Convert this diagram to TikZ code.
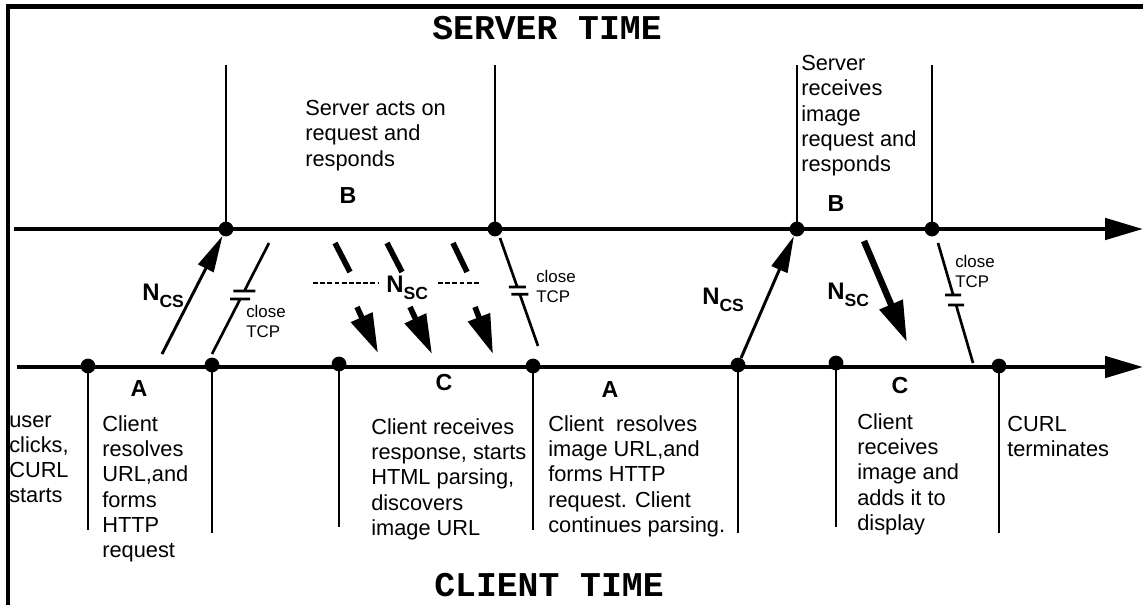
\documentclass[tikz,border=0pt]{standalone}
\usepackage{fontspec}
\setmainfont{Liberation Sans}
\setmonofont{Liberation Mono}
\usetikzlibrary{arrows.meta,calc}

\newcommand{\Nsub}[1]{N\raisebox{-5pt}{\fontsize{12.5}{12.5}\selectfont #1}}

\begin{document}
\begin{tikzpicture}[x=0.025cm,y=-0.025cm,
  timeline/.style={line width=3.2pt,-{Triangle[length=27pt,width=15pt]}},
  tickline/.style={line width=2.1pt},
  dot/.style={circle,fill,inner sep=0pt,minimum size=0.37cm},
  note/.style={anchor=north west,align=left,inner sep=0pt,font=\fontsize{15.5}{18}\selectfont},
  phase/.style={font=\fontsize{16.5}{16.5}\selectfont\bfseries},
  tcpnote/.style={anchor=north west,align=left,inner sep=0pt,font=\fontsize{12}{14}\selectfont},
  nlab/.style={anchor=base west,inner sep=0pt,font=\fontsize{17}{17}\selectfont\bfseries},
  req/.style={line width=2.1pt,-{Triangle[length=26pt,width=12pt]}},
  resp/.style={line width=4pt},
  resphead/.style={line width=4pt,-{Triangle[length=28pt,width=16pt]}},
  bigresp/.style={line width=4.6pt,-{Triangle[length=29pt,width=17pt]}},
  sig/.style={line width=1.9pt},
  dashrule/.style={line width=2pt,dash pattern=on 3.5pt off 1.6pt},
  heading/.style={font=\fontsize{24.7}{24.7}\selectfont\ttfamily\bfseries}]

\useasboundingbox (0,0) rectangle (1143,605);
\draw[line width=3pt] (8,605) -- (8,6.5) -- (1143,6.5);

\node[heading] (srvtime) at (547,28) {SERVER TIME};
\node[heading] (clitime) at (549,585) {CLIENT TIME};

% the two time axes
\coordinate (sL) at (14,229);
\coordinate (sR) at (1143,229);
\coordinate (cL) at (17,367);
\coordinate (cR) at (1143,367);
\draw[timeline] (sL) -- (sR);
\draw[timeline] (cL) -- (cR);

% server events
\node[dot] (s1) at (226,229) {};
\node[dot] (s2) at (495,229) {};
\node[dot] (s3) at (797,229) {};
\node[dot] (s4) at (932,229) {};
\draw[tickline] (s1.center) -- ++(0,-164);
\draw[tickline] (s2.center) -- ++(0,-164);
\draw[tickline] (s3.center) -- ++(0,-164);
\draw[tickline] (s4.center) -- ++(0,-164);

% client events
\node[dot] (c1) at (88,366) {};
\node[dot] (c2) at (212,365) {};
\node[dot] (c3) at (339,364) {};
\node[dot] (c4) at (533,366) {};
\node[dot] (c5) at (738,365) {};
\node[dot] (c6) at (836,363) {};
\node[dot] (c7) at (999,366) {};
\draw[tickline] (c1.center) -- ++(0,164);
\draw[tickline] (c2.center) -- ++(0,168);
\draw[tickline] (c3.center) -- ++(0,163);
\draw[tickline] (c4.center) -- ++(0,164);
\draw[tickline] (c5.center) -- ++(0,168);
\draw[tickline] (c6.center) -- ++(0,164);
\draw[tickline] (c7.center) -- ++(0,167);

\node[phase] (lA1) at (139,389) {A};
\node[phase] (lB1) at (348,196) {B};
\node[phase] (lC1) at (444,383) {C};
\node[phase] (lA2) at (610,390) {A};
\node[phase] (lB2) at (836,204) {B};
\node[phase] (lC2) at (900,386) {C};

\node[note] (usr)   at (9,415)    {user\\clicks,\\CURL\\starts};
\node[note] (resA)  at (102,415)  {Client\\resolves\\URL,and\\forms\\HTTP\\request};
\node[note] (rcvC)  at (371,418)  {Client receives\\response, starts\\HTML parsing,\\discovers\\image URL};
\node[note] (imgA)  at (548,415)  {Client~ resolves\\image URL,and\\forms HTTP\\request. Client\\continues parsing.};
\node[note] (dispC) at (857,413)  {Client\\receives\\image and\\adds it to\\display};
\node[note] (term)  at (1007,416) {CURL\\terminates};
\node[note] (actB)  at (305,100)  {Server acts on\\request and\\responds};
\node[note] (imgB)  at (801,55)   {Server\\receives\\image\\request and\\responds};

% requests
\coordinate (q1) at (162,354);
\draw[req] (q1) -- (s1);
\draw[req] (c5) -- (s3);
\node[nlab] (ncs1) at (142,300) {\Nsub{CS}};
\node[nlab] (ncs2) at (702,304) {\Nsub{CS}};

% html response, split in pieces
\draw[resp] (335,243) coordinate (r1a) -- (350,272) coordinate (r1b);
\draw[resphead] (357,307) coordinate (r1c) -- (378,353) coordinate (r1d);
\draw[resp] (387,243) coordinate (r2a) -- (402,272) coordinate (r2b);
\draw[resphead] (410,307) coordinate (r2c) -- (432,354) coordinate (r2d);
\draw[resp] (453,243) coordinate (r3a) -- (467,272) coordinate (r3b);
\draw[resphead] (475,307) coordinate (r3c) -- (493,354) coordinate (r3d);
\node[nlab] (nsc1) at (386,292) {\Nsub{SC}};
\draw[dashrule] (313,283) -- (378,283);
\draw[dashrule] (438,283) -- (480,283);

% image response
\coordinate (g1) at (864,241);
\coordinate (g2) at (907,342);
\draw[bigresp] (g1) -- (g2);
\node[nlab] (nsc2) at (827,299) {\Nsub{SC}};

% connection teardown
\coordinate (k1a) at (212,354);
\coordinate (k1b) at (269,243);
\draw[sig] (k1a) -- ($(k1a)!.495!(k1b)$) ++(-10,0) -- ++(20,0);
\draw[sig] (k1b) -- ($(k1a)!.568!(k1b)$) ++(-11,0) -- ++(22,0);
\node[tcpnote] (tcp1) at (246,305) {close\\TCP};

\coordinate (k2a) at (538,346);
\coordinate (k2b) at (500,238);
\draw[sig] (k2a) -- ($(k2a)!.48!(k2b)$) ++(-8.5,0) -- ++(17,0);
\draw[sig] (k2b) -- ($(k2a)!.546!(k2b)$) ++(-8.5,0) -- ++(17,0);
\node[tcpnote] (tcp2) at (536,270) {close\\TCP};

\coordinate (k3a) at (973,363);
\coordinate (k3b) at (938,243);
\draw[sig] (k3a) -- ($(k3a)!.483!(k3b)$) ++(-8,0) -- ++(16,0);
\draw[sig] (k3b) -- ($(k3a)!.567!(k3b)$) ++(-8,0) -- ++(16,0);
\node[tcpnote] (tcp3) at (955,255) {close\\TCP};

\end{tikzpicture}
\end{document}
